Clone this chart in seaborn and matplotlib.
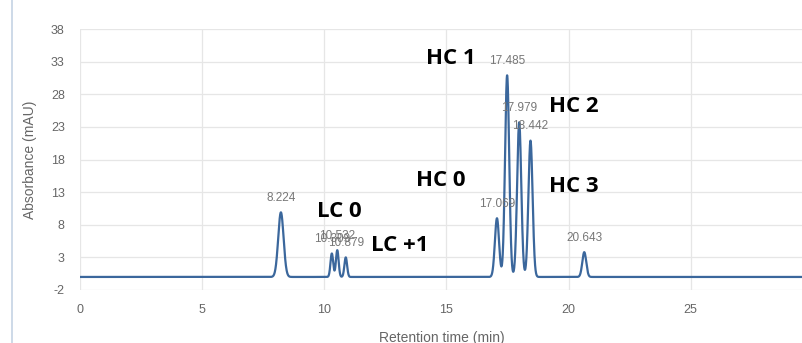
import numpy as np
import pandas as pd
import matplotlib
matplotlib.use("Agg")
import matplotlib.pyplot as plt
import seaborn as sns
from matplotlib.lines import Line2D

# Peak data
peak_times = [8.224, 10.309, 10.532, 10.879, 17.069, 17.485, 17.979, 18.442, 20.643]
peak_labels = ["8.224", "10.309", "10.532", "10.879", "17.069", "17.485", "17.979", "18.442", "20.643"]
peak_heights = [9.9, 3.6, 4.1, 3.0, 9.0, 30.9, 23.7, 20.9, 3.8]
peak_sigmas = [0.11, 0.055, 0.055, 0.055, 0.085, 0.085, 0.085, 0.085, 0.08]

annot_texts = ["LC 0", "LC +1", "HC 0", "HC 1", "HC 2", "HC 3"]
annot_x = [10.6, 13.07, 14.75, 15.2, 20.2, 20.2]
annot_y = [10.0, 4.8, 14.8, 33.5, 26.1, 13.9]

y_ticks = [-2, 3, 8, 13, 18, 23, 28, 33, 38]
x_ticks = [0, 5, 10, 15, 20, 25]

# Build trace
t = np.linspace(0, 30, 6001)
signal = np.zeros_like(t)
for mu, h, s in zip(peak_times, peak_heights, peak_sigmas):
    signal += h * np.exp(-0.5 * ((t - mu) / s) ** 2)
df = pd.DataFrame({"time": t, "abs": signal})

sns.set_theme(style="white")
plt.rcParams["font.family"] = ["Liberation Sans", "DejaVu Sans"]

fig = plt.figure(figsize=(8.03, 3.43), dpi=100)
ax = fig.add_axes([80 / 803, 1 - 290 / 343, 1 - 80 / 803 + 0.001, (290 - 29) / 343])

sns.lineplot(data=df, x="time", y="abs", ax=ax, color="#3b679c", linewidth=1.6)

ax.set_xlim(0, 29.63)
ax.set_ylim(-2, 38)
ax.set_xticks(x_ticks)
ax.set_yticks(y_ticks)
ax.set_xticklabels([str(v) for v in x_ticks])
ax.set_yticklabels([str(v) for v in y_ticks])
ax.grid(True, color="#e6e6e6", linewidth=0.9)
ax.set_axisbelow(True)
for sp in ax.spines.values():
    sp.set_visible(False)
ax.tick_params(axis="both", length=7, color="#e6e6e6", labelsize=9,
               labelcolor="#666666", pad=4)
ax.tick_params(axis="x", pad=3)

ax.set_xlabel("Retention time (min)", fontsize=10, color="#666666", labelpad=11)
ax.set_ylabel("Absorbance (mAU)", fontsize=10, color="#666666", labelpad=10)

for x, h, lab in zip(peak_times, peak_heights, peak_labels):
    ax.annotate(lab, xy=(x, h), xytext=(0, 6), textcoords="offset points",
                ha="center", va="bottom", fontsize=8.5, color="#777777")

for txt, x, y in zip(annot_texts, annot_x, annot_y):
    ax.text(x, y, txt, fontsize=16, fontweight="bold", color="black",
            ha="center", va="center", family=["Open Sans", "DejaVu Sans"])

fig.add_artist(Line2D([12.5 / 803, 12.5 / 803], [0, 1], transform=fig.transFigure,
                      color="#c5d3e4", linewidth=1.2))

fig.savefig("out.png", dpi=100)
